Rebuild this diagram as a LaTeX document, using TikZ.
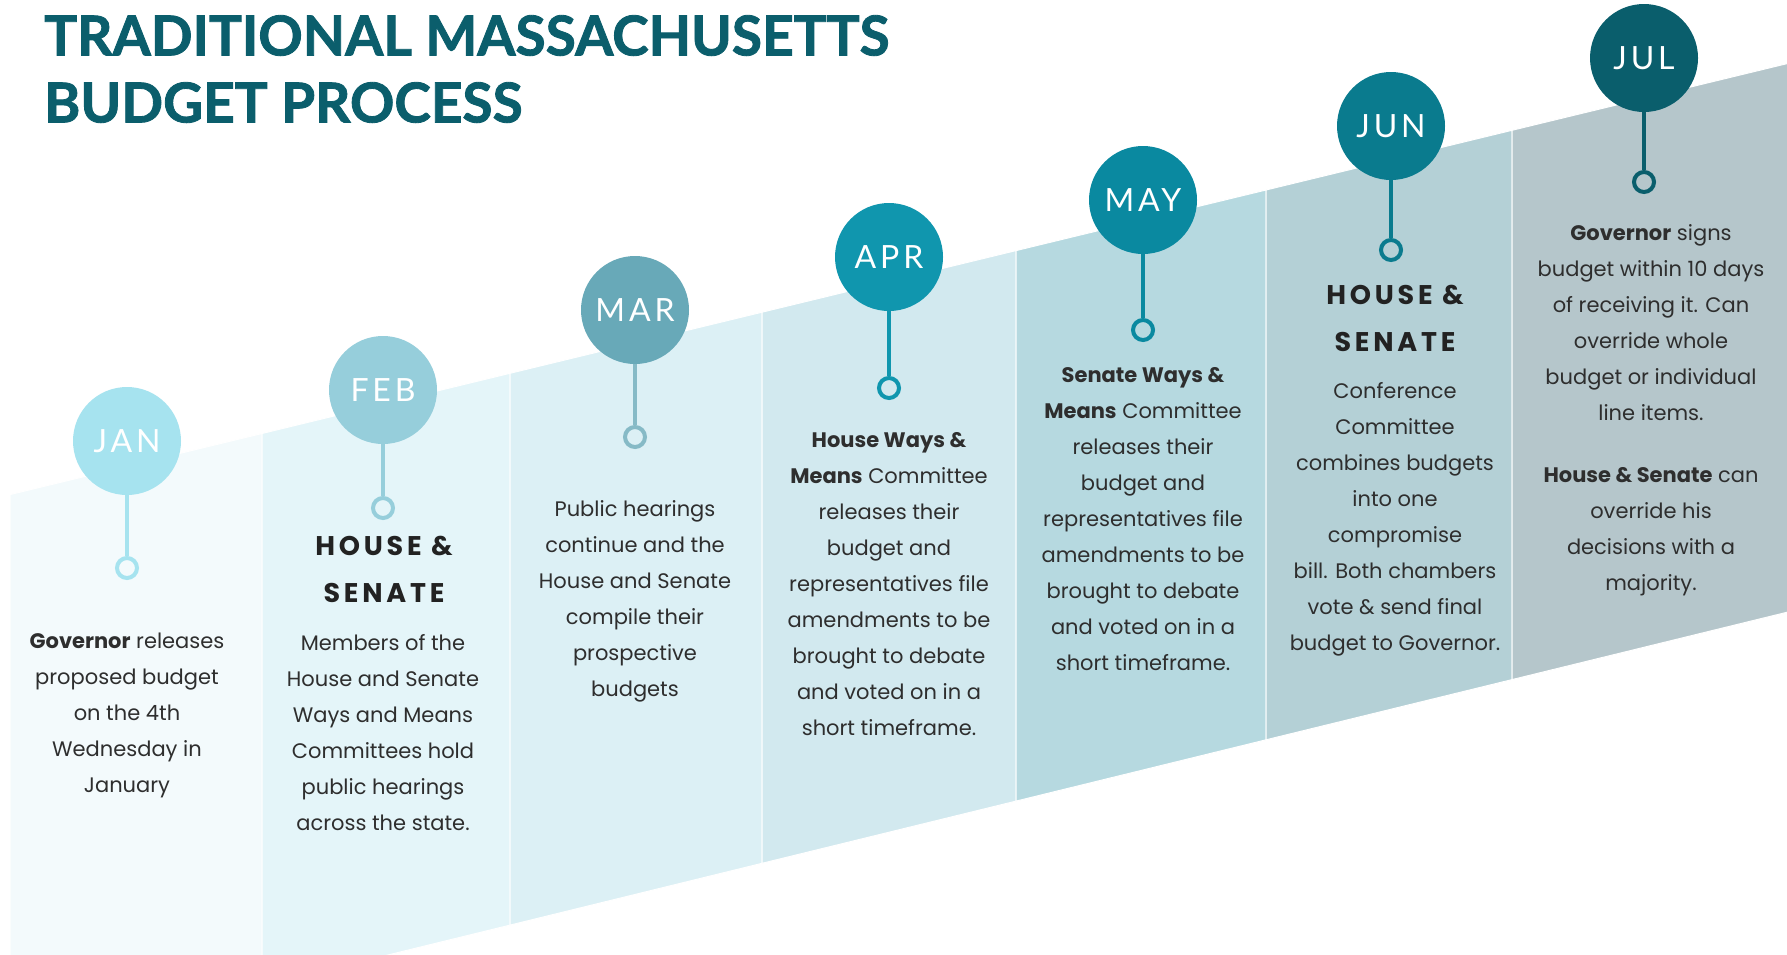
\documentclass[tikz,border=0pt]{standalone}
\usepackage{fontspec}
\setmainfont{Poppins}
\newfontfamily\titlefont[BoldFeatures={FakeBold=1.5}]{Lato}
\newfontfamily\monthfont[LetterSpace=12]{Lato}
\newfontfamily\headfont[LetterSpace=14]{Poppins}

% band colours, one per month
\definecolor{janbg}{HTML}{F3FAFC}
\definecolor{febbg}{HTML}{E4F5F9}
\definecolor{marbg}{HTML}{DCF0F5}
\definecolor{aprbg}{HTML}{D2E9EF}
\definecolor{maybg}{HTML}{B6D9E0}
\definecolor{junbg}{HTML}{B4D0D6}
\definecolor{julbg}{HTML}{B5C6CB}
% circle colours
\definecolor{jancol}{HTML}{A6E3EF}
\definecolor{febcol}{HTML}{96CEDB}
\definecolor{marcol}{HTML}{68A9B8}
\definecolor{aprcol}{HTML}{1096AE}
\definecolor{maycol}{HTML}{0A89A0}
\definecolor{juncol}{HTML}{0A7B8E}
\definecolor{julcol}{HTML}{0A5E6C}
\definecolor{titleteal}{HTML}{0B5E6C}
\definecolor{bodygray}{HTML}{2E2E2E}
\definecolor{headgray}{HTML}{222222}

\tikzset{
    monthdot/.style={circle, minimum size=108pt, inner sep=0pt, text=white,
        font=\monthfont\fontsize{32}{32}\selectfont},
    ringdot/.style={circle, draw, minimum size=20pt, inner sep=0pt, line width=4pt},
    stemline/.style={line width=4pt},
    bodytext/.style={align=center, inner sep=0pt, text=bodygray,
        font=\fontsize{21}{36}\selectfont},
    headtext/.style={align=center, inner sep=0pt, text=headgray,
        font=\headfont\bfseries\fontsize{27}{47}\selectfont},
    titletext/.style={align=left, inner sep=0pt, text=titleteal,
        font=\titlefont\bfseries\fontsize{55}{67}\selectfont},
    column/.style={draw=white, line width=1pt}
}

\begin{document}
\begin{tikzpicture}[x=1pt, y=-1pt]
        \useasboundingbox (0,0) rectangle (1787,954);
        \fill[white] (0,0) rectangle (1787,954);
        \clip (0,0) rectangle (1787,954);

        % Draw the rising band, one column for each month
        \filldraw[column, fill=janbg] (10,494.6) -- (262,433.5) -- (262,985.8) -- (10,1047.6) -- cycle;
        \filldraw[column, fill=febbg] (262,433.5) -- (510,373.3) -- (510,925.1) -- (262,985.8) -- cycle;
        \filldraw[column, fill=marbg] (510,373.3) -- (762,312.2) -- (762,863.3) -- (510,925.1) -- cycle;
        \filldraw[column, fill=aprbg] (762,312.2) -- (1016,250.6) -- (1016,801.1) -- (762,863.3) -- cycle;
        \filldraw[column, fill=maybg] (1016,250.6) -- (1266,190.0) -- (1266,739.8) -- (1016,801.1) -- cycle;
        \filldraw[column, fill=junbg] (1266,190.0) -- (1512,130.3) -- (1512,679.6) -- (1266,739.8) -- cycle;
        \filldraw[column, fill=julbg] (1512,130.3) -- (1790,62.9) -- (1790,611.5) -- (1512,679.6) -- cycle;

        % Title
        \node[titletext, anchor=north west] (title) at (44,15) {TRADITIONAL MASSACHUSETTS\\BUDGET PROCESS};

        % Month circles and the rings below them
        \node[monthdot, fill=jancol] (jan) at (127,441) {JAN};
        \node[monthdot, fill=febcol] (feb) at (383,390) {FEB};
        \node[monthdot, fill=marcol] (mar) at (635,310) {MAR};
        \node[monthdot, fill=aprcol] (apr) at (889,257) {APR};
        \node[monthdot, fill=maycol] (may) at (1143,200) {MAY};
        \node[monthdot, fill=juncol] (jun) at (1391,126) {JUN};
        \node[monthdot, fill=julcol] (jul) at (1644,58) {JUL};

        \node[ringdot, draw=jancol, fill=janbg] (janring) at (127,568) {};
        \node[ringdot, draw=febcol, fill=febbg] (febring) at (383,508) {};
        \node[ringdot, draw=marcol!80!white, fill=marbg] (marring) at (635,437) {};
        \node[ringdot, draw=aprcol, fill=aprbg] (aprring) at (889,388) {};
        \node[ringdot, draw=maycol, fill=maybg] (mayring) at (1143,330) {};
        \node[ringdot, draw=juncol, fill=junbg] (junring) at (1391,250) {};
        \node[ringdot, draw=julcol, fill=julbg] (julring) at (1644,182) {};

        \draw[stemline, jancol] (jan) -- (janring);
        \draw[stemline, febcol] (feb) -- (febring);
        \draw[stemline, marcol!80!white] (mar) -- (marring);
        \draw[stemline, aprcol] (apr) -- (aprring);
        \draw[stemline, maycol] (may) -- (mayring);
        \draw[stemline, juncol] (jun) -- (junring);
        \draw[stemline, julcol] (jul) -- (julring);

        % Headings
        \node[headtext] (febhead) at (384,569) {HOUSE \&\\SENATE};
        \node[headtext] (junhead) at (1395,318) {HOUSE \&\\SENATE};

        % Add the text for each month
        \node[bodytext] (jantext) at (127,715) {\textbf{Governor} releases\\proposed budget\\on the 4th\\Wednesday in\\January};
        \node[bodytext] (febtext) at (383,733) {Members of the\\House and Senate\\Ways and Means\\Committees hold\\public hearings\\across the state.};
        \node[bodytext] (martext) at (635,601) {Public hearings\\continue and the\\House and Senate\\compile their\\prospective\\budgets};
        \node[bodytext] (aprtext) at (889,584) {\textbf{House Ways \&}\\\textbf{Means} Committee\\releases their\\budget and\\representatives file\\amendments to be\\brought to debate\\and voted on in a\\short timeframe.};
        \node[bodytext] (maytext) at (1143,519) {\textbf{Senate Ways \&}\\\textbf{Means} Committee\\releases their\\budget and\\representatives file\\amendments to be\\brought to debate\\and voted on in a\\short timeframe.};
        \node[bodytext] (juntext) at (1395,519) {Conference\\Committee\\combines budgets\\into one\\compromise\\bill. Both chambers\\vote \& send final\\budget to Governor.};
        \node[bodytext] (jultext) at (1651,323) {\textbf{Governor} signs\\budget within 10 days\\of receiving it. Can\\override whole\\budget or individual\\line items.};
        \node[bodytext] (julnote) at (1651,532) {\textbf{House \& Senate} can\\override his\\decisions with a\\majority.};

\end{tikzpicture}
\end{document}
